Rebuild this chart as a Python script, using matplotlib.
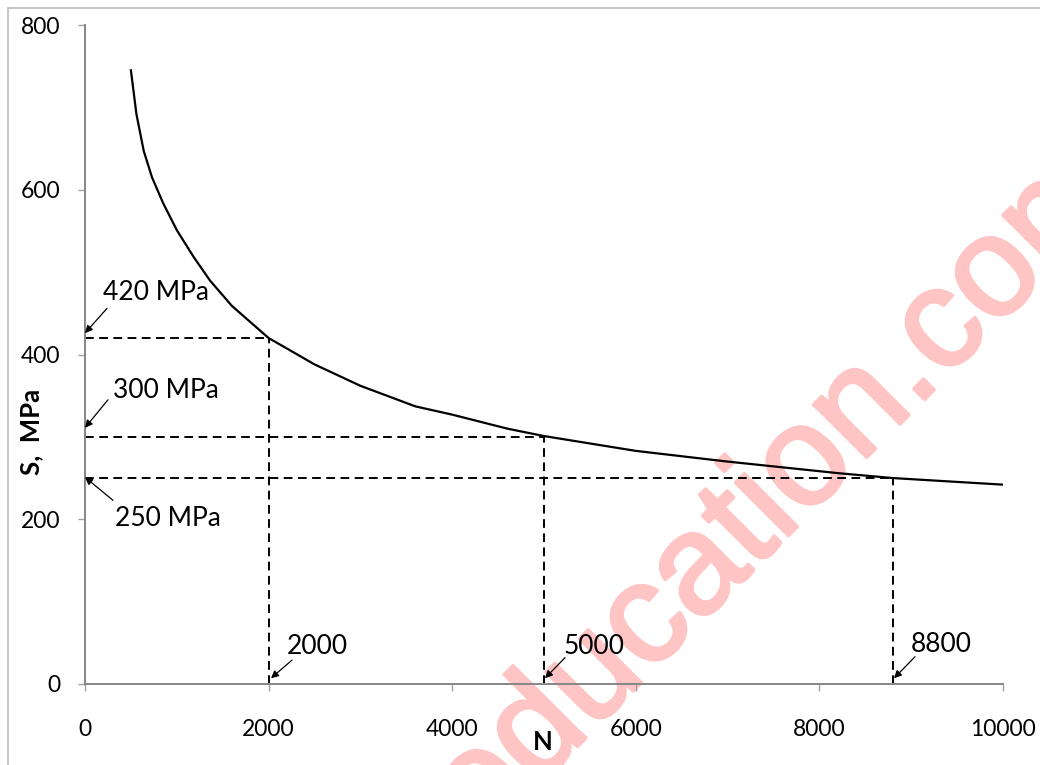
import matplotlib
matplotlib.use("Agg")
import matplotlib.pyplot as plt
import matplotlib.patheffects as pe
from matplotlib.lines import Line2D

plt.rcParams['font.family'] = ['Lato', 'DejaVu Sans']

# S-N curve
cycles = [500, 560, 640, 730, 850, 1000, 1180, 1360, 1600, 2000, 2500, 3000,
          3600, 4000, 4600, 5000, 5500, 6000, 7000, 7600, 8200, 8800, 9400, 10000]
stress = [745, 692, 647, 615, 584, 551, 519, 490, 459, 420, 388, 362,
          337, 327, 310, 301, 292, 283, 270, 263, 256, 250, 246, 242]

# marked points
mark_n = [2000, 5000, 8800]
mark_s = [420, 300, 250]

x_ticks = [0, 2000, 4000, 6000, 8000, 10000]
y_ticks = [0, 200, 400, 600, 800]

W, H = 1040, 765
fig = plt.figure(figsize=(W / 100, H / 100), dpi=100)
ax = fig.add_axes([85 / W, 1 - 684 / H, (1003 - 85) / W, (684 - 25) / H])
ax.patch.set_alpha(0)

ax.plot(cycles, stress, color='black', lw=1.6, zorder=3)

dash = (0, (4.5, 2.8))
for n, s in zip(mark_n, mark_s):
    ax.plot([0, n], [s, s], color='black', lw=1.4, linestyle=dash, zorder=2)
    ax.plot([n, n], [0, s], color='black', lw=1.4, linestyle=dash, zorder=2)

ax.set_xlim(0, 10000)
ax.set_ylim(0, 800)
ax.set_xticks(x_ticks)
ax.set_yticks(y_ticks)
for sp in ['top', 'right']:
    ax.spines[sp].set_visible(False)
for sp in ['left', 'bottom']:
    ax.spines[sp].set_color('#868686')
    ax.spines[sp].set_linewidth(1.4)
ax.tick_params(axis='x', direction='out', length=5, width=1, color='#a0a0a0',
               pad=20, labelsize=16.5)
ax.tick_params(axis='y', direction='out', length=5, width=1, color='#a0a0a0',
               pad=13, labelsize=16.5)

# annotations: text, arrow tail, arrow head
labels = ['420 MPa', '300 MPa', '250 MPa', '2000', '5000', '8800']
text_pos = [(196, 475), (305, 356), (327, 201), (2200, 45), (5218, 45), (8998, 48)]
tails = [(240, 456), (250, 345), (305, 223), (2255, 29), (5229, 32), (9041, 33)]
heads = [(0, 426), (0, 311), (0, 251), (2026, 7), (5011, 7), (8813, 7)]
for lab, tp, tl, hd in zip(labels, text_pos, tails, heads):
    ax.text(tp[0], tp[1], lab, fontsize=19, ha='left', va='center', zorder=4)
    ax.annotate('', xy=hd, xytext=tl,
                arrowprops=dict(arrowstyle='-|>', color='black', lw=0.9,
                                mutation_scale=11, shrinkA=0, shrinkB=0),
                annotation_clip=False)

fig.text(31 / W, 1 - 432 / H, 'S,  MPa', rotation=90, fontsize=18.5,
         fontweight='bold', ha='center', va='center')
fig.text(543 / W, 1 - 742 / H, 'N', fontsize=18.5, fontweight='bold',
         ha='center', va='center')

# chart frame
fig.add_artist(Line2D([8 / W, 8 / W], [0, 1 - 8 / H], transform=fig.transFigure,
                      color='#bcbcbc', lw=1.2))
fig.add_artist(Line2D([8 / W, 1], [1 - 8 / H, 1 - 8 / H], transform=fig.transFigure,
                      color='#bcbcbc', lw=1.2))

# watermark, behind the chart
fig.text(481 / W, 1 - 843 / H, 'education.com', rotation=45,
         rotation_mode='anchor', ha='left', va='baseline', fontsize=102,
         family=['Liberation Sans', 'DejaVu Sans'], color='#ffc4c4',
         zorder=-1,
         path_effects=[pe.withStroke(linewidth=2.5, foreground='#ffc4c4')])

fig.savefig('out.png', dpi=100)
